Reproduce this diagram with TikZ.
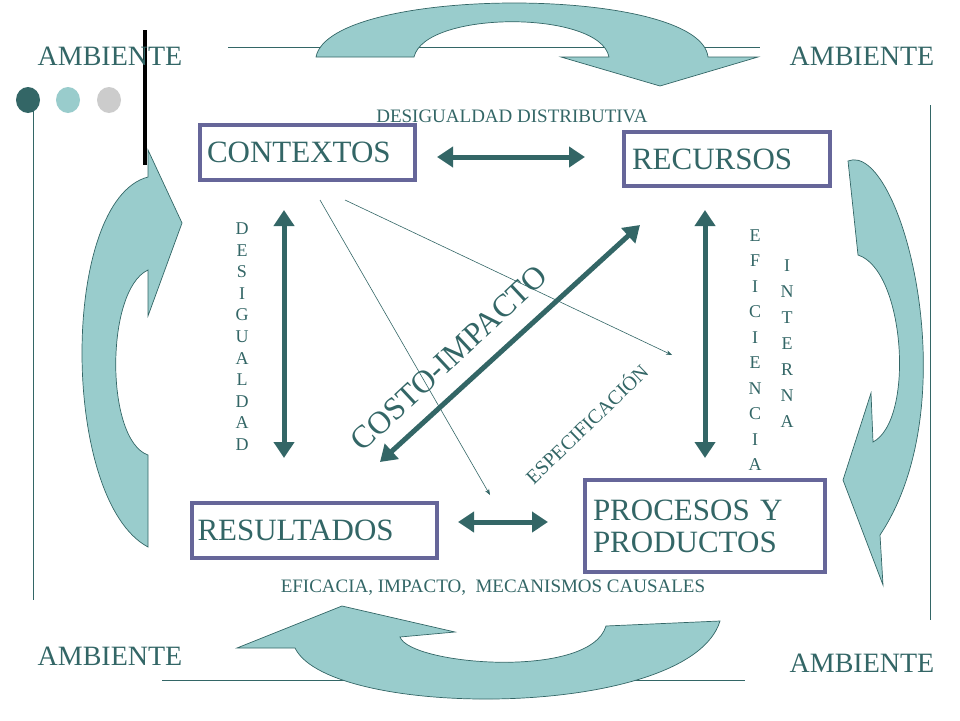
\documentclass[tikz,border=0pt]{standalone}
\usepackage{fontspec}
\setmainfont{Liberation Serif}
\usetikzlibrary{arrows.meta}
\definecolor{tealdark}{HTML}{336666}
\definecolor{teallight}{HTML}{99CCCC}
\definecolor{boxpurple}{HTML}{666699}
\tikzset{
  box/.style={draw=boxpurple,line width=4pt,inner sep=0pt,text=tealdark,font=\fontsize{31}{34}\selectfont},
  amb/.style={text=tealdark,font=\fontsize{28}{30}\selectfont},
  small/.style={text=tealdark,font=\fontsize{19}{21}\selectfont},
  letter/.style={text=tealdark,font=\fontsize{18}{20}\selectfont},
  bigarrow/.style={tealdark,line width=5pt,{Triangle[length=16pt,width=20pt]}-{Triangle[length=16pt,width=20pt]}},
  turn/.style={fill=teallight,draw=tealdark,line width=0.7pt},
}
\begin{document}
\begin{tikzpicture}[x=1pt,y=-1pt]
        \useasboundingbox (0,0) rectangle (960,720);

        % frame lines
        \draw[tealdark,line width=0.8pt] (228,47) -- (760,47);
        \draw[tealdark,line width=0.8pt] (33,110) -- (33,600);
        \draw[tealdark,line width=0.8pt] (930,105) -- (930,620);
        \draw[tealdark,line width=0.8pt] (162,680) -- (745,680);
        \draw[black,line width=4pt] (145,30) -- (145,165);

        % dots
        \foreach \x/\c in {28/tealdark,68/teallight,109/black!20}
                \fill[\c] (\x,100) ellipse (12 and 13);

        % curved arrows
        \draw[turn] (316,57) .. controls (330,-15) and (700,-15) .. (708,57)
                -- (758,57) -- (660,86) -- (561,57) -- (609,57)
                .. controls (600,10) and (425,10) .. (414,57) -- cycle;
        \draw[turn] (148,547) .. controls (60,500) and (60,200) .. (148,177)
                -- (148,150) -- (182,223) -- (148,316) -- (148,270)
                .. controls (105,290) and (105,440) .. (148,455) -- cycle;
        \draw[turn] (848,161) .. controls (900,140) and (970,400) .. (880,535)
                -- (883,585) -- (843,480) -- (871,393) -- (873,442)
                .. controls (915,420) and (905,270) .. (858,255) -- cycle;
        \draw[turn] (720,621) .. controls (690,720) and (330,720) .. (295,648)
                -- (237,648) -- (342,606) -- (455,632) -- (400,637)
                .. controls (410,665) and (590,680) .. (606,626) -- cycle;

        % corner labels
        \node[amb] (amb1) at (110,56) {AMBIENTE};
        \node[amb] (amb2) at (862,56) {AMBIENTE};
        \node[amb] (amb3) at (110,656) {AMBIENTE};
        \node[amb] (amb4) at (862,663) {AMBIENTE};

        % boxes
        \node[box,minimum width=215pt,minimum height=55pt,text width=201pt,align=left] (ctx) at (307.5,152.5) {CONTEXTOS};
        \node[box,minimum width=206pt,minimum height=54pt,text width=190pt,align=left] (rec) at (727,159) {RECURSOS};
        \node[box,minimum width=245pt,minimum height=55pt,text width=234pt,align=left] (res) at (314.5,530.5) {RESULTADOS};
        \node[box,minimum width=240pt,minimum height=92pt,text width=224pt,align=left] (pro) at (705,526) {PROCESOS Y\\[-2pt]PRODUCTOS};

        \node[small] (dd) at (512,116) {DESIGUALDAD DISTRIBUTIVA};
        \node[small] (ef) at (493,588) {EFICACIA, IMPACTO, \ MECANISMOS CAUSALES};

        % arrow ends
        \coordinate (a1) at (437,157); \coordinate (a2) at (585,157);
        \coordinate (b1) at (284,210); \coordinate (b2) at (284,458);
        \coordinate (c1) at (705,210); \coordinate (c2) at (705,458);
        \coordinate (d1) at (640,225); \coordinate (d2) at (380,462);
        \coordinate (e1) at (458,522); \coordinate (e2) at (548,522);
        \foreach \p/\q in {a1/a2,b1/b2,c1/c2,d1/d2,e1/e2}
                \draw[bigarrow] (\p) -- (\q);

        % thin arrows
        \draw[tealdark,line width=0.6pt,-{Stealth[length=6pt]}] (320,200) -- (490,495);
        \draw[tealdark,line width=0.6pt,-{Stealth[length=6pt]}] (345,200) -- (672,355);

        % vertical words
        \foreach \l [count=\i] in {D,E,S,I,G,U,A,L,D,A,D}
                \node[letter] at (242,207+21.6*\i) {\l};
        \foreach \l [count=\i] in {E,F,I,C,I,E,N,C,I,A}
                \node[letter] at (755,210+25.5*\i) {\l};
        \foreach \l [count=\i] in {I,N,T,E,R,N,A}
                \node[letter] at (787,240+26*\i) {\l};

        % rotated labels
        \node[text=tealdark,font=\fontsize{32}{34}\selectfont,rotate=43] (ci) at (449,358) {COSTO-IMPACTO};
        \node[small,font=\fontsize{20}{22}\selectfont,rotate=44] (esp) at (586,423) {ESPECIFICACIÓN};
\end{tikzpicture}
\end{document}
